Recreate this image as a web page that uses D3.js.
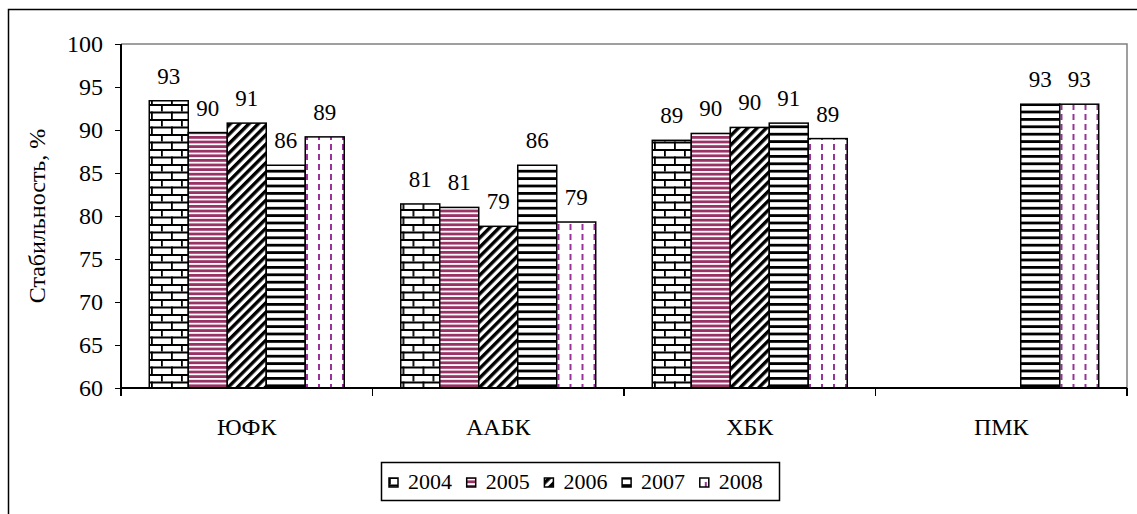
<!DOCTYPE html>
<meta charset='utf-8'>
<style>

body { margin: 0; background: #fff; }
svg text { font-family: 'Liberation Serif', 'DejaVu Serif', 'Times New Roman', serif; fill: #000; }

.axis path, .axis line { stroke: #000; stroke-width: 1.2px; shape-rendering: crispEdges; }
.axis text { font-size: 24px; font-family: 'Liberation Serif', 'DejaVu Serif', serif; }
.bar { stroke: #000; stroke-width: 1.5px; }
.val { font-size: 23px; text-anchor: middle; }
.frame { fill: none; stroke: #000; stroke-width: 1.5px; }
.plotframe { fill: none; stroke: #808080; stroke-width: 1.5px; }

</style>
<body>

<script src='https://cdnjs.cloudflare.com/ajax/libs/d3/7.8.5/d3.min.js'></script>
<script>
'use strict'

// Data

let categories = ['ЮФК', 'ААБК', 'ХБК', 'ПМК'],
	years = ['2004', '2005', '2006', '2007', '2008'],
	v2004 = [93.4, 81.4, 88.8, null],
	v2005 = [89.7, 81.0, 89.6, null],
	v2006 = [90.8, 78.8, 90.3, null],
	v2007 = [85.9, 85.9, 90.8, 93.0],
	v2008 = [89.2, 79.3, 89.0, 93.0],
	yTicks = [60, 65, 70, 75, 80, 85, 90, 95, 100],
	yLabel = 'Стабильность, %'

let series = [v2004, v2005, v2006, v2007, v2008]


// Boilerplate

let W = 1137, H = 514,
	margin = {top: 44, right: 10, bottom: 126, left: 121},
	width = W - margin.left - margin.right,
	height = H - margin.top - margin.bottom

let svg = d3.select('body').append('svg').attr('width', W).attr('height', H)

let x0 = d3.scaleBand().domain(categories).range([0, width]),
	x1 = d3.scaleBand().domain(years).range([0, x0.bandwidth()]).paddingOuter(0.725),
	y = d3.scaleLinear().domain([60, 100]).range([height, 0])


// Fill patterns

let defs = svg.append('defs'),
	pat = (id, w, h, tr) => {
		let p = defs.append('pattern').attr('id', id)
			.attr('patternUnits', 'userSpaceOnUse').attr('width', w).attr('height', h)
		if (tr) p.attr('patternTransform', tr)
		p.append('rect').attr('width', w).attr('height', h).attr('fill', '#fff')
		return p }

// 2004 bricks
pat('p0', 20, 15).call(p => {
	p.append('rect').attr('y', 0).attr('width', 20).attr('height', 2).attr('fill', '#000')
	p.append('rect').attr('y', 7.5).attr('width', 20).attr('height', 2).attr('fill', '#000')
	p.append('rect').attr('x', 0).attr('width', 1.8).attr('height', 7.5).attr('fill', '#000')
	p.append('rect').attr('x', 10).attr('y', 7.5).attr('width', 1.8).attr('height', 7.5).attr('fill', '#000') })
// 2005 maroon stripes
pat('p1', 10, 4.6).append('rect').attr('width', 10).attr('height', 2.8).attr('fill', '#993366')
// 2006 wide diagonal
pat('p2', 6.6, 10, 'rotate(45)').append('rect').attr('width', 3.4).attr('height', 10).attr('fill', '#000')
// 2007 black stripes
pat('p3', 10, 7.4).append('rect').attr('width', 10).attr('height', 2.8).attr('fill', '#000')
// 2008 purple dashes
pat('p4', 12, 10).append('rect').attr('x', 5).attr('width', 2).attr('height', 6).attr('fill', '#993399')

let fills = years.map((d, i) => `url(#p${i})`)


// Outer frame

svg.append('rect').attr('class', 'frame')
	.attr('x', 8.5).attr('y', 9.5).attr('width', W + 20).attr('height', H + 20)

let vis = svg.append('g').attr('transform', `translate(${margin.left},${margin.top})`)

vis.append('path').attr('class', 'plotframe')
	.attr('d', `M0,0H${width}V${height}`)


// Bars and labels

let groups = vis.selectAll('.grp').data(categories).enter().append('g')
	.attr('class', 'grp').attr('transform', d => `translate(${x0(d)},0)`)

groups.each(function(cat, ci) {
	let g = d3.select(this),
		rows = years.map((yr, si) => ({yr, si, v: series[si][ci]})).filter(d => d.v != null)
	g.selectAll('rect').data(rows).enter().append('rect')
		.attr('class', 'bar')
		.attr('x', d => x1(d.yr)).attr('width', x1.bandwidth())
		.attr('y', d => y(d.v)).attr('height', d => height - y(d.v))
		.attr('fill', d => fills[d.si])
	g.selectAll('.val').data(rows).enter().append('text')
		.attr('class', 'val')
		.attr('x', d => x1(d.yr) + x1.bandwidth() / 2)
		.attr('y', d => y(d.v) - 17)
		.text(d => d3.format('.0f')(d.v))
})


// Axes

vis.append('g').attr('class', 'axis')
	.call(d3.axisLeft(y).tickValues(yTicks).tickSize(6).tickPadding(12))
	.call(s => s.select('.domain').attr('d', `M0,0V${height}`))

let xa = vis.append('g').attr('class', 'axis').attr('transform', `translate(0,${height})`)
xa.append('path').attr('d', `M0,0H${width}`).attr('stroke', '#000').attr('stroke-width', 1.2)
xa.selectAll('line').data(d3.range(categories.length + 1)).enter().append('line')
	.attr('x1', i => i * x0.step()).attr('x2', i => i * x0.step())
	.attr('y1', 0).attr('y2', 8)
xa.selectAll('text').data(categories).enter().append('text')
	.attr('x', d => x0(d) + x0.bandwidth() / 2).attr('y', 47)
	.attr('text-anchor', 'middle').text(d => d)

svg.append('text')
	.attr('transform', `translate(45,${margin.top + height / 2}) rotate(-90)`)
	.attr('text-anchor', 'middle').style('font-size', '24px').text(yLabel)


// Legend

let leg = svg.append('g').attr('transform', 'translate(381,462)')
leg.append('rect').attr('class', 'frame').attr('x', 0.5).attr('y', 0.5).attr('width', 398).attr('height', 38)
let items = leg.selectAll('.item').data(years).enter().append('g')
	.attr('class', 'item').attr('transform', (d, i) => `translate(${8 + i * 77.7},0)`)
items.append('rect').attr('x', 0).attr('y', 16).attr('width', 9).attr('height', 9)
	.attr('fill', (d, i) => fills[i]).attr('stroke', '#000').attr('stroke-width', 1.5)
items.append('text').attr('x', 19).attr('y', 27).style('font-size', '22px').text(d => d)

</script>
</body>
